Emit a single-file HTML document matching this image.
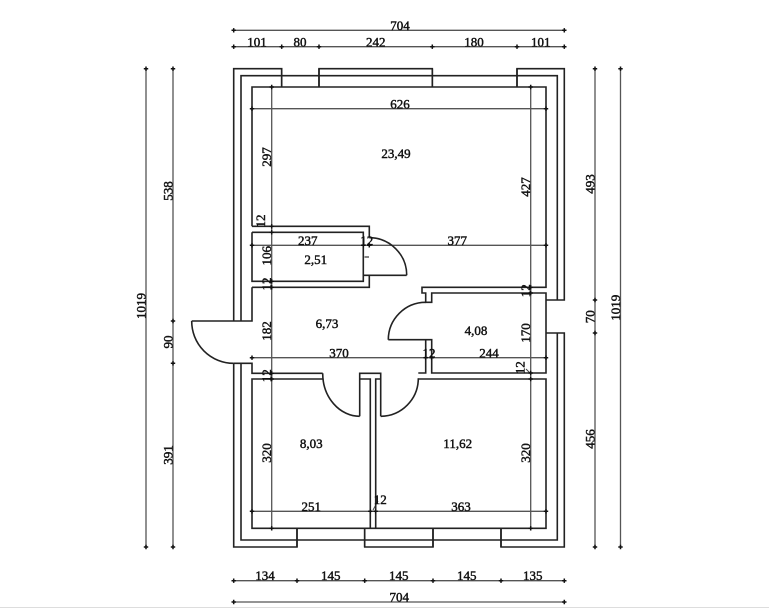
<!DOCTYPE html>
<html><head><meta charset="utf-8"><style>
html,body{margin:0;padding:0;background:#fff}
svg{display:block}
text{font-family:"Liberation Serif",serif;font-size:13px;fill:#111;stroke:#111;stroke-width:.45;text-anchor:middle}
.w{fill:none;stroke:#222;stroke-width:1.6}
.d{fill:none;stroke:#555;stroke-width:1.3}
</style></head><body>
<svg width="769" height="608" viewBox="0 0 769 608" xmlns="http://www.w3.org/2000/svg">
<defs><path id="t" d="M-2.2 0H2.2M0-2.2V2.2" stroke="#111" stroke-width="1.5" fill="none"/></defs>
<rect width="769" height="608" fill="#fff"/>
<rect x="0" y="607" width="769" height="1" fill="#ddd"/>

<!-- Dimension lines -->
<path class="d" d="M233.7 30.3H564.3M233.7 46.7H564.3M233.7 580.7H564.3M233.7 602H564.3
M146 68.7V547M173 68.7V547M595 68.7V547M620.5 68.7V547
M271.7 87V528.3M530.7 87V528.3
M252 108.7H546M252 245.3H546M252 357.7H546M252 511.3H546"/>
<path d="M373 510L378 501M526 369L530 373" stroke="#444" fill="none"/>

<!-- Walls -->
<path class="w" d="
M281.7 87V68.7H233.7V321M241 321V75.7H557.3V300M319 87V68.7H432.3V87M517 87V68.7H564.3V300H546
M252 226.3V87H546V287.3H422V293H425.7V302.3H431.7V293H546V373H431.7V339.7H388.3M425.7 339.7V373H418.3M418.3 379H546V528.3H252V379H322.7
M252 226.3H369.3V237.7M252 232.3H363.3V275.3H406.7M252 232.3V281.3H363.3V275.3M252 287.3H369.3V275.3M252 287.3V321H191.7
M233.7 363.3V547H297V528.3M241 363.3V540H557.3V333M233.7 363.3H252V373.3H322.7
M359.7 416.3V373.3H380.7V416.3M359.7 379H370.3V528.3M375.7 528.3V379H380.7
M546 333H564.3V547H501V528.3M433 528.3V547H364.7V528.3
"/>
<path class="w" d="M297 528.3V547M364.7 528.3V547M433 528.3V547M501 528.3V547M281.7 68.7V87M319 68.7V87M432.3 68.7V87M517 68.7V87"/>
<!-- Door arcs -->
<path class="w" d="M191.7 321A42 42 0 0 0 233.7 363.3
M322.7 373.3A37 43 0 0 0 359.7 416.3
M380.7 416.3A38 38 0 0 0 418.3 378.3
M369.3 237.7A37.5 37.5 0 0 1 406.7 275.3
M425.7 302.3A37.5 37.5 0 0 0 388.3 339.7"/>
<path d="M364.5 257H369" stroke="#333" stroke-width="1.2"/>

<!-- Ticks -->
<use href="#t" x="233.7" y="30.3"/><use href="#t" x="564.3" y="30.3"/>
<use href="#t" x="233.7" y="46.7"/><use href="#t" x="281.7" y="46.7"/><use href="#t" x="319" y="46.7"/><use href="#t" x="432.3" y="46.7"/><use href="#t" x="517" y="46.7"/><use href="#t" x="564.3" y="46.7"/>
<use href="#t" x="233.7" y="580.7"/><use href="#t" x="297" y="580.7"/><use href="#t" x="364.7" y="580.7"/><use href="#t" x="433" y="580.7"/><use href="#t" x="501" y="580.7"/><use href="#t" x="564.3" y="580.7"/>
<use href="#t" x="233.7" y="602"/><use href="#t" x="564.3" y="602"/>
<use href="#t" x="146" y="68.7"/><use href="#t" x="146" y="547"/>
<use href="#t" x="173" y="68.7"/><use href="#t" x="173" y="321"/><use href="#t" x="173" y="363.3"/><use href="#t" x="173" y="547"/>
<use href="#t" x="595" y="68.7"/><use href="#t" x="595" y="300"/><use href="#t" x="595" y="333"/><use href="#t" x="595" y="547"/>
<use href="#t" x="620.5" y="68.7"/><use href="#t" x="620.5" y="547"/>
<use href="#t" x="271.7" y="87"/><use href="#t" x="271.7" y="226.3"/><use href="#t" x="271.7" y="232.3"/><use href="#t" x="271.7" y="281.3"/><use href="#t" x="271.7" y="287.3"/><use href="#t" x="271.7" y="373.3"/><use href="#t" x="271.7" y="379"/><use href="#t" x="271.7" y="528.3"/>
<use href="#t" x="530.7" y="87"/><use href="#t" x="530.7" y="287.3"/><use href="#t" x="530.7" y="293"/><use href="#t" x="530.7" y="373"/><use href="#t" x="530.7" y="379"/><use href="#t" x="530.7" y="528.3"/>
<use href="#t" x="252" y="108.7"/><use href="#t" x="546" y="108.7"/>
<use href="#t" x="252" y="245.3"/><use href="#t" x="363.3" y="245.3"/><use href="#t" x="369.3" y="245.3"/><use href="#t" x="546" y="245.3"/>
<use href="#t" x="252" y="357.7"/><use href="#t" x="425.7" y="357.7"/><use href="#t" x="431.7" y="357.7"/><use href="#t" x="546" y="357.7"/>
<use href="#t" x="252" y="511.3"/><use href="#t" x="370.3" y="511.3"/><use href="#t" x="375.7" y="511.3"/><use href="#t" x="546" y="511.3"/>

<!-- Horizontal labels -->
<text x="400" y="30">704</text>
<text x="257" y="46.5">101</text><text x="300" y="46.5">80</text><text x="375.7" y="46.5">242</text><text x="474" y="46.5">180</text><text x="540.7" y="46.5">101</text>
<text x="400" y="108.5">626</text>
<text x="396" y="158">23,49</text>
<text x="307.7" y="245">237</text><text x="366.7" y="245">12</text><text x="457.3" y="245">377</text>
<text x="315.7" y="264">2,51</text>
<text x="327" y="328">6,73</text>
<text x="476" y="335">4,08</text>
<text x="339" y="357.5">370</text><text x="429" y="357.5">12</text><text x="489" y="357.5">244</text>
<text x="311.3" y="448">8,03</text><text x="457.7" y="448">11,62</text>
<text x="311.3" y="511">251</text><text x="380.3" y="504">12</text><text x="461" y="511">363</text>
<text x="265" y="580">134</text><text x="330.7" y="580">145</text><text x="398.7" y="580">145</text><text x="466.7" y="580">145</text><text x="532.7" y="580">135</text>
<text x="399.3" y="601.5">704</text>

<!-- Vertical labels -->
<text transform="translate(145.5,306) rotate(-90)">1019</text>
<text transform="translate(172.5,191) rotate(-90)">538</text>
<text transform="translate(172.5,342) rotate(-90)">90</text>
<text transform="translate(172.5,455) rotate(-90)">391</text>
<text transform="translate(271.2,157) rotate(-90)">297</text>
<text transform="translate(265,221) rotate(-90)">12</text>
<text transform="translate(271.2,255.7) rotate(-90)">106</text>
<text transform="translate(271.2,284) rotate(-90)">12</text>
<text transform="translate(271.2,331) rotate(-90)">182</text>
<text transform="translate(271.2,375.7) rotate(-90)">12</text>
<text transform="translate(271.2,453) rotate(-90)">320</text>
<text transform="translate(530.2,187) rotate(-90)">427</text>
<text transform="translate(530.2,290.7) rotate(-90)">12</text>
<text transform="translate(530.2,333) rotate(-90)">170</text>
<text transform="translate(524.5,367.7) rotate(-90)">12</text>
<text transform="translate(530.2,453) rotate(-90)">320</text>
<text transform="translate(594.5,184) rotate(-90)">493</text>
<text transform="translate(594.5,316.7) rotate(-90)">70</text>
<text transform="translate(594.5,439) rotate(-90)">456</text>
<text transform="translate(620,307.7) rotate(-90)">1019</text>
</svg>
</body></html>
